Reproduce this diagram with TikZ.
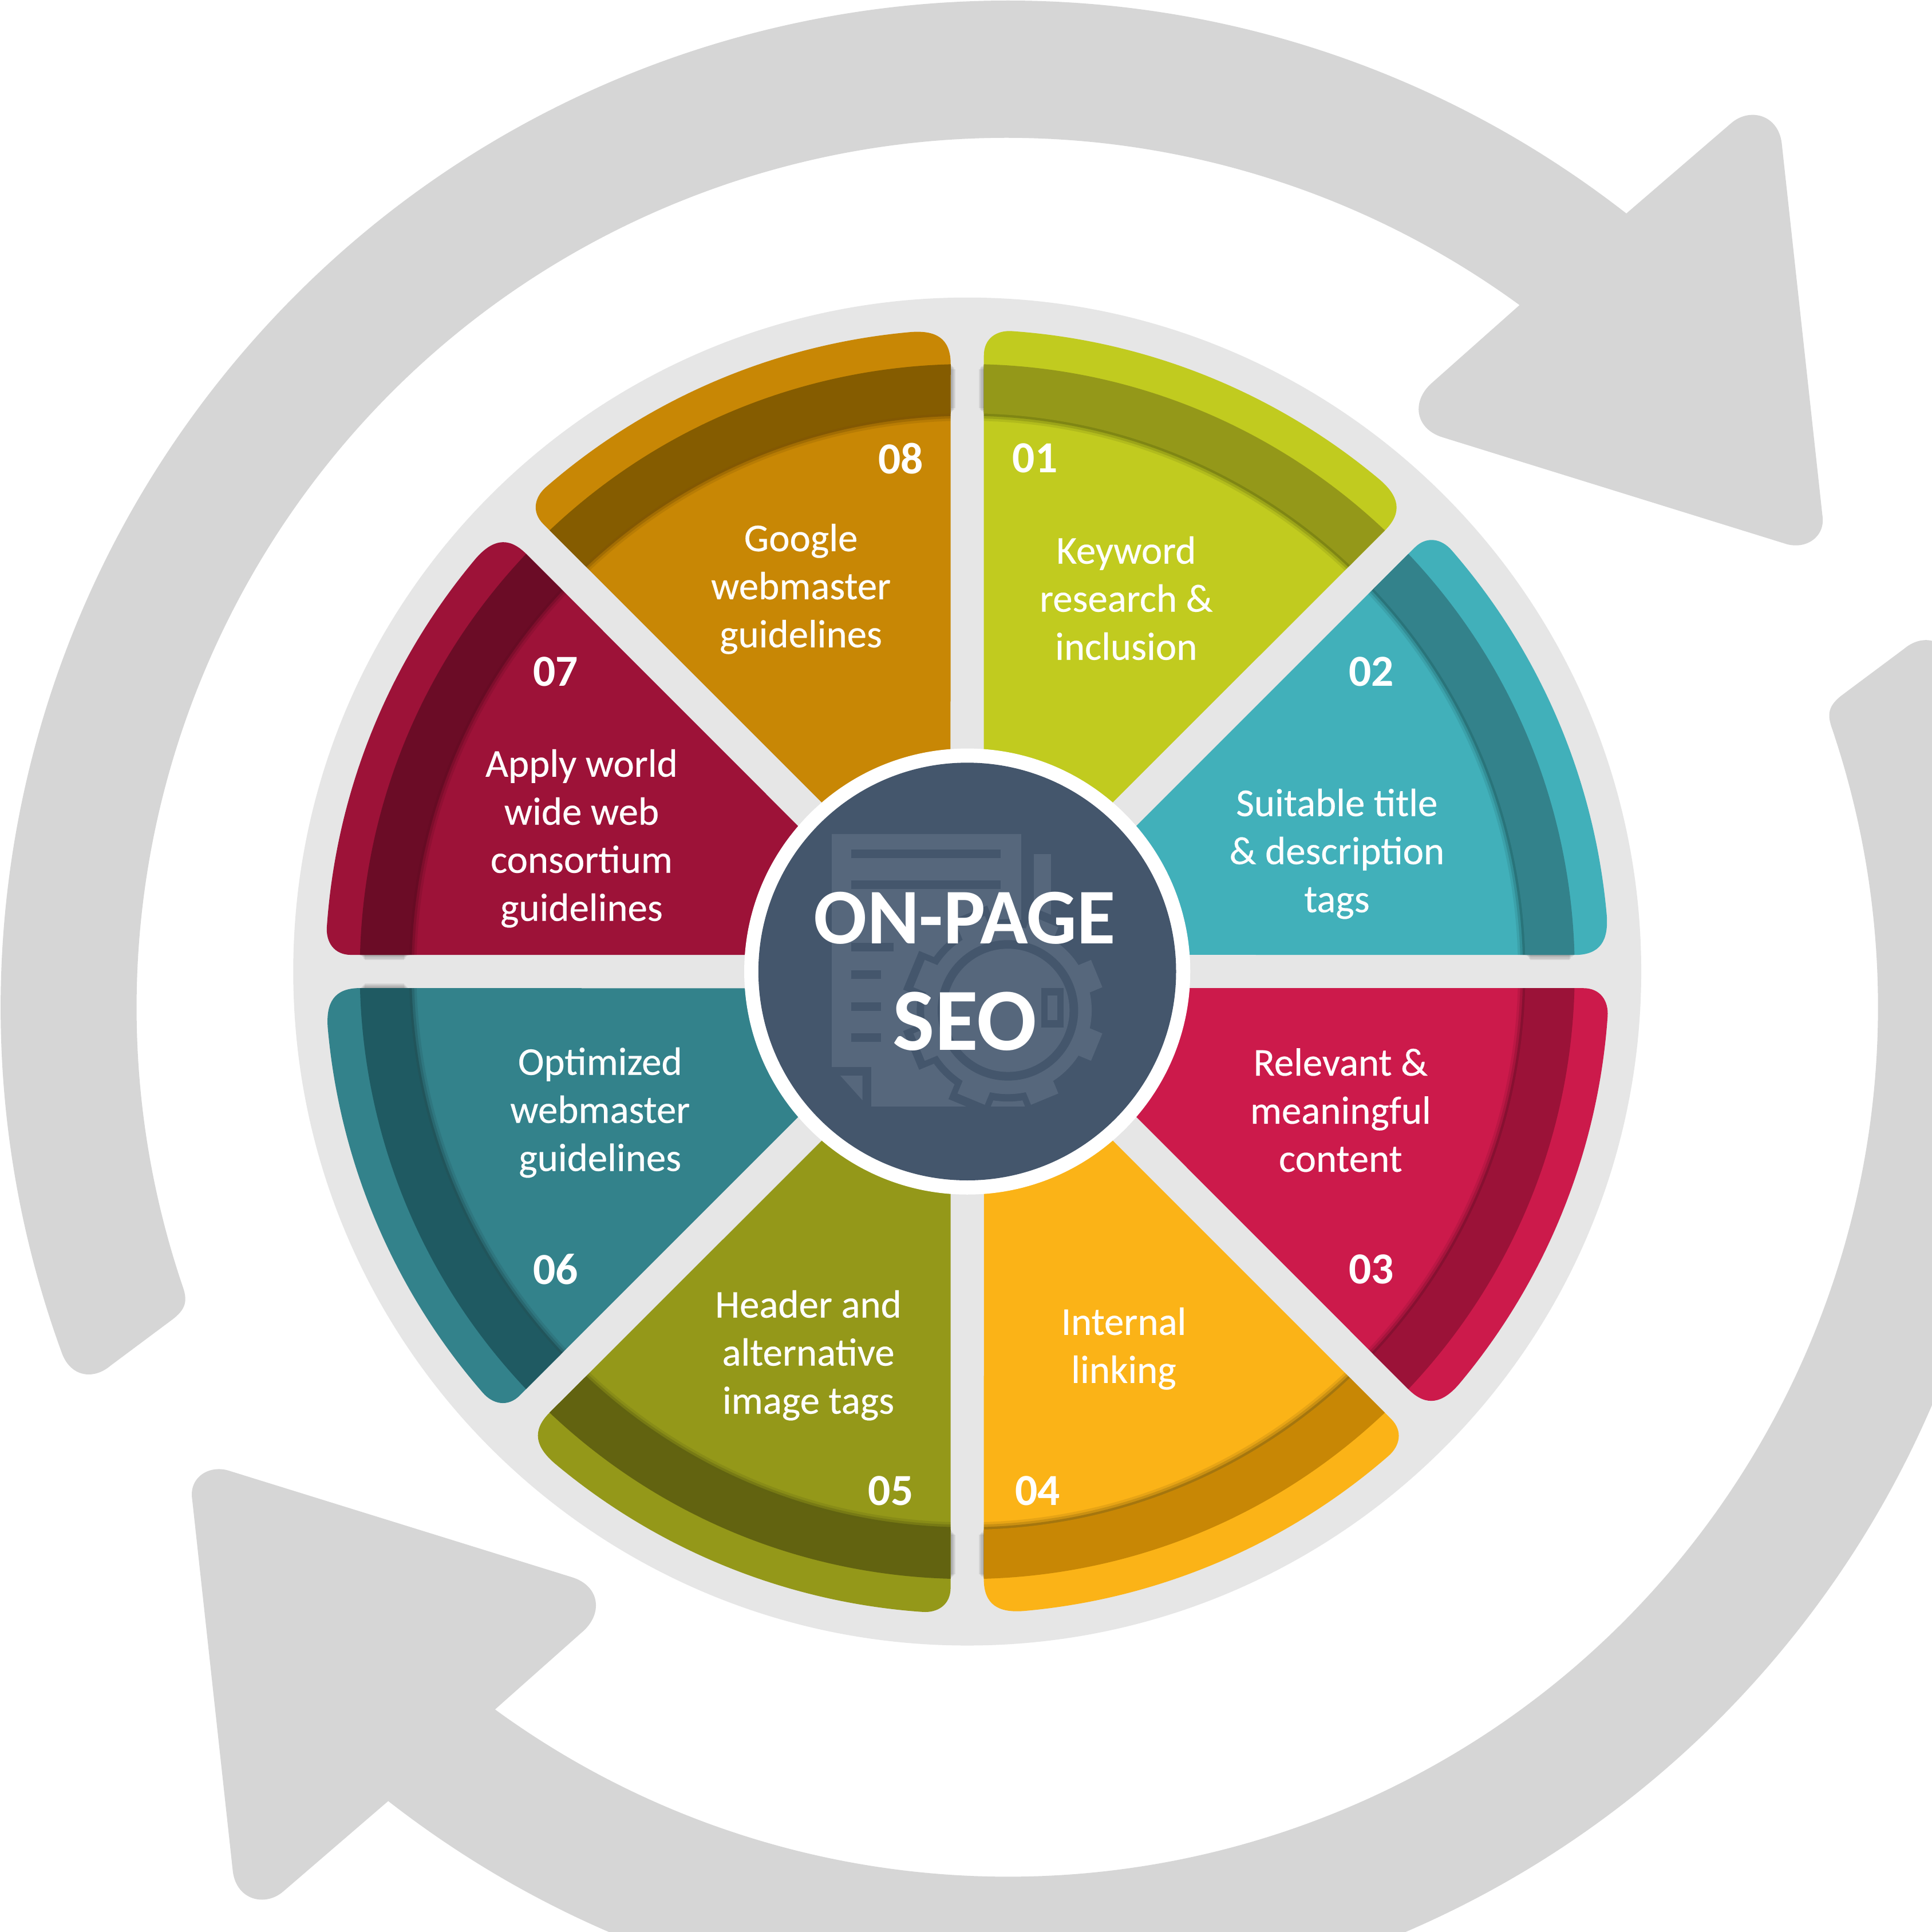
\documentclass[tikz,border=0pt]{standalone}
\usepackage{fontspec}
\setmainfont{Carlito}
\newfontfamily\segfont[FakeBold=0.3]{Carlito}
\definecolor{ringgray}{HTML}{D6D6D6}
\definecolor{discgray}{HTML}{E6E6E6}
\definecolor{hubblue}{HTML}{44566C}
\definecolor{iconblue}{HTML}{56677C}
\definecolor{aF}{HTML}{C1CB1F}\definecolor{aB}{HTML}{949819}
\definecolor{bF}{HTML}{41B0BA}\definecolor{bB}{HTML}{33828B}
\definecolor{cF}{HTML}{CC1A4B}\definecolor{cB}{HTML}{9B1238}
\definecolor{dF}{HTML}{FBB317}\definecolor{dB}{HTML}{C88705}
\definecolor{eF}{HTML}{949819}\definecolor{eB}{HTML}{626310}
\definecolor{fF}{HTML}{33828B}\definecolor{fB}{HTML}{1F5A62}
\definecolor{gF}{HTML}{9D1238}\definecolor{gB}{HTML}{6B0C26}
\definecolor{hF}{HTML}{C88705}\definecolor{hB}{HTML}{855C00}
\tikzset{
  numlabel/.style={text=white,font=\fontsize{36}{36}\selectfont\bfseries,inner sep=0pt},
  seglabel/.style={text=white,font=\segfont\fontsize{32}{39}\selectfont,align=center,inner sep=0pt},
  hublabel/.style={text=white,font=\fontsize{64}{64}\selectfont\bfseries,inner sep=0pt},
  hublabelbig/.style={text=white,font=\fontsize{72}{72}\selectfont\bfseries,inner sep=0pt},
  iconfill/.style={fill=iconblue},
  iconcut/.style={fill=hubblue},
  gapshade/.style={fill=black,opacity=.07}
}
\newcommand\segpath{(13.5,170) -- (13.5,500) .. controls (13.5,514) and (24,520.6) .. (86:521)
  arc[start angle=86,end angle=50,radius=521]
  .. controls (350,386) and (354,373) .. (339,358) -- (110.6,129.8) -- cycle}
\newcommand\segment[3]{%
  \begin{scope}[shift={(785,779.5)},rotate=#1]
    \fill[#2] \segpath;
    \begin{scope}
      \clip \segpath;
      \foreach \w/\o in {12/.08,8/.12,4/.18}{\draw[black,opacity=\o,line width=\w pt] (0,0) circle[radius=453];}
      \fill[#3,even odd rule] (0,0) circle[radius=493] (0,0) circle[radius=453];
    \end{scope}
  \end{scope}}
\newcommand\arrowshape{%
  (52.05:817)
  arc[start angle=52.05,end angle=199.98,radius=817]
  .. controls (-761,-300) and (-742,-303) .. (-727.7,-290.8)
  -- (-678.9,-254.4)
  .. controls (-666,-245) and (-665,-238) .. (-669.6,-225.5)
  arc[start angle=198.6,end angle=53.87,radius=706]
  -- (345.5,507.5)
  .. controls (327.5,492.5) and (330.5,469.5) .. (353.5,462.5)
  -- (630.5,376.5)
  .. controls (647.5,370.5) and (664.5,381.5) .. (661.5,399.5)
  -- (628.5,701.5)
  .. controls (625.5,724.5) and (602.5,730.5) .. (587.5,717.5)
  -- cycle}
\begin{document}
\begin{tikzpicture}[x=1pt,y=1pt]
\useasboundingbox (0,0) rectangle (1568,1568);
\fill[white] (0,0) rectangle (1568,1568);
\begin{scope}
  \clip (0,0) rectangle (1568,1568);
  \fill[ringgray,shift={(817.5,750.5)}] \arrowshape;
  \fill[ringgray,shift={(817.5,750.5)},rotate=180] \arrowshape;
\end{scope}
\fill[discgray] (785,779.5) circle[radius=547];
\segment{0}{aF}{aB}
\segment{-45}{bF}{bB}
\segment{-90}{cF}{cB}
\segment{-135}{dF}{dB}
\segment{-180}{eF}{eB}
\segment{-225}{fF}{fB}
\segment{-270}{gF}{gB}
\segment{-315}{hF}{hB}
% soft shadows of the bands over the gaps
\foreach \p in {1,2,3,4}{
  \fill[gapshade] (798.5-\p,1232.5+\p) rectangle (798.5,1272.5-\p);
  \fill[gapshade] (771.5,1232.5+\p) rectangle (771.5+\p,1272.5-\p);
  \fill[gapshade] (798.5-\p,286.5+\p) rectangle (798.5,326.5-\p);
  \fill[gapshade] (771.5,286.5+\p) rectangle (771.5+\p,326.5-\p);
  \fill[gapshade] (1238+\p,793-\p) rectangle (1278-\p,793);
  \fill[gapshade] (292+\p,793-\p) rectangle (332-\p,793);
  \fill[gapshade] (292+\p,766) rectangle (332-\p,766+\p);
}
\fill[white] (785,779.5) circle[radius=181];
\fill[hubblue] (785,779.5) circle[radius=169.5];
% icon
\fill[iconfill] (675,702) rectangle (829,891);
\fill[iconfill] (707,670) rectangle (840,702);
\fill[iconfill] (839,823) rectangle (853,875);
\fill[iconfill] (682,695) -- (700,695) -- (700,675) -- cycle;
\foreach \y/\x in {871.5/812,846.5/812,796/725,773.5/715,747.5/715,722.5/715}{\fill[iconcut] (691,\y) rectangle (\x,\y+7);}
\begin{scope}
  \clip (660,670) rectangle (910,900);
  \foreach \a in {0,45,...,315}{\fill[iconcut,shift={(818,748)},rotate=\a+22.5] (-17,0) rectangle (17,85);}
  \fill[iconcut] (818,748) circle[radius=74];
  \foreach \a in {0,45,...,315}{\fill[iconfill,shift={(818,748)},rotate=\a+22.5] (-12,0) rectangle (12,78);}
  \fill[iconfill] (818,748) circle[radius=68];
  \fill[iconcut] (818,748) circle[radius=57];
  \fill[iconfill] (818,748) circle[radius=50];
  \fill[iconcut] (845,734) rectangle (863,766);
  \fill[iconfill] (850,740) rectangle (858,760);
\end{scope}
% labels
\node[numlabel] (n1) at (840,1196) {01};
\node[numlabel] (n2) at (1113,1023) {02};
\node[numlabel] (n3) at (1113,538) {03};
\node[numlabel] (n4) at (842,358) {04};
\node[numlabel] (n5) at (723,358) {05};
\node[numlabel] (n6) at (451,538) {06};
\node[numlabel] (n7) at (451,1023) {07};
\node[numlabel] (n8) at (731,1196) {08};
\node[seglabel] (t1) at (914,1082.5) {Keyword\\research \&\\inclusion};
\node[seglabel] (t2) at (1085,875) {Suitable title\\\& description\\tags};
\node[seglabel] (t3) at (1088,667) {Relevant \&\\meaningful\\content};
\node[seglabel] (t4) at (912,473.5) {Internal\\linking};
\node[seglabel] (t5) at (656,468) {Header and\\alternative\\image tags};
\node[seglabel] (t6) at (487,665) {Optimized\\webmaster\\guidelines};
\node[seglabel] (t7) at (472,887.5) {Apply world\\wide web\\consortium\\guidelines};
\node[seglabel] (t8) at (650,1090) {Google\\webmaster\\guidelines};
\node[hublabel] (h1) at (783,823) {ON-PAGE};
\node[hublabelbig] (h2) at (783,739) {SEO};
\end{tikzpicture}
\end{document}
